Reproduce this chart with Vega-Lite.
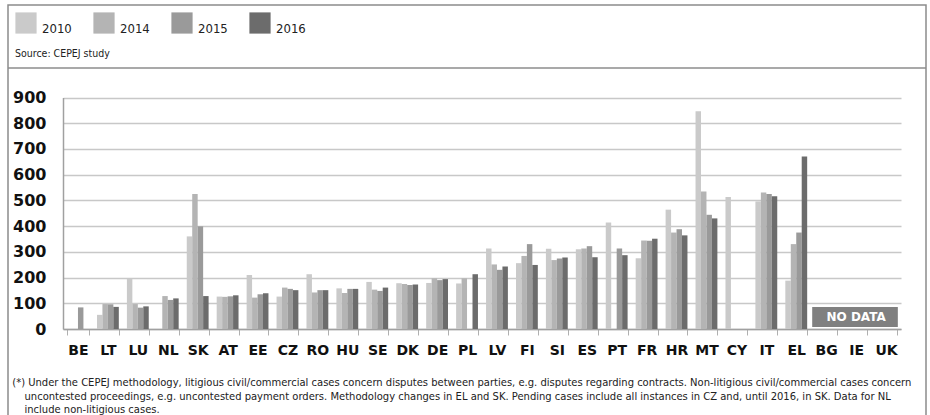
{
  "$schema": "https://vega.github.io/schema/vega-lite/v6.json",
  "width": 918,
  "height": 415,
  "padding": {"left": 7, "top": 5, "right": 5, "bottom": 0},
  "background": "white",
  "config": {
    "view": {"stroke": "#8c8c8c", "strokeWidth": 1.5},
    "font": "DejaVu Sans"
  },
  "title": {
    "text": "(*) Under the CEPEJ methodology, litigious civil/commercial cases concern disputes between parties, e.g. disputes regarding contracts. Non-litigious civil/commercial cases concern",
    "orient": "bottom",
    "anchor": "start",
    "offset": -43,
    "dx": 5,
    "baseline": "top",
    "font": "DejaVu Sans Condensed",
    "fontSize": 11.1,
    "fontWeight": "normal",
    "color": "#222222"
  },
  "datasets": {
    "cases": [
      {"country": "BE", "year": "2015", "value": 84},
      {"country": "LT", "year": "2010", "value": 55},
      {"country": "LT", "year": "2014", "value": 97},
      {"country": "LT", "year": "2015", "value": 96},
      {"country": "LT", "year": "2016", "value": 86},
      {"country": "LU", "year": "2010", "value": 196},
      {"country": "LU", "year": "2014", "value": 97},
      {"country": "LU", "year": "2015", "value": 83},
      {"country": "LU", "year": "2016", "value": 88},
      {"country": "NL", "year": "2014", "value": 128},
      {"country": "NL", "year": "2015", "value": 113},
      {"country": "NL", "year": "2016", "value": 119},
      {"country": "SK", "year": "2010", "value": 360},
      {"country": "SK", "year": "2014", "value": 525},
      {"country": "SK", "year": "2015", "value": 399},
      {"country": "SK", "year": "2016", "value": 128},
      {"country": "AT", "year": "2010", "value": 126},
      {"country": "AT", "year": "2014", "value": 125},
      {"country": "AT", "year": "2015", "value": 127},
      {"country": "AT", "year": "2016", "value": 131},
      {"country": "EE", "year": "2010", "value": 210},
      {"country": "EE", "year": "2014", "value": 122},
      {"country": "EE", "year": "2015", "value": 135},
      {"country": "EE", "year": "2016", "value": 139},
      {"country": "CZ", "year": "2010", "value": 126},
      {"country": "CZ", "year": "2014", "value": 161},
      {"country": "CZ", "year": "2015", "value": 156},
      {"country": "CZ", "year": "2016", "value": 151},
      {"country": "RO", "year": "2010", "value": 213},
      {"country": "RO", "year": "2014", "value": 142},
      {"country": "RO", "year": "2015", "value": 151},
      {"country": "RO", "year": "2016", "value": 151},
      {"country": "HU", "year": "2010", "value": 158},
      {"country": "HU", "year": "2014", "value": 140},
      {"country": "HU", "year": "2015", "value": 156},
      {"country": "HU", "year": "2016", "value": 156},
      {"country": "SE", "year": "2010", "value": 183},
      {"country": "SE", "year": "2014", "value": 153},
      {"country": "SE", "year": "2015", "value": 148},
      {"country": "SE", "year": "2016", "value": 161},
      {"country": "DK", "year": "2010", "value": 178},
      {"country": "DK", "year": "2014", "value": 175},
      {"country": "DK", "year": "2015", "value": 171},
      {"country": "DK", "year": "2016", "value": 173},
      {"country": "DE", "year": "2010", "value": 179},
      {"country": "DE", "year": "2014", "value": 197},
      {"country": "DE", "year": "2015", "value": 190},
      {"country": "DE", "year": "2016", "value": 194},
      {"country": "PL", "year": "2010", "value": 177},
      {"country": "PL", "year": "2014", "value": 197},
      {"country": "PL", "year": "2016", "value": 213},
      {"country": "LV", "year": "2010", "value": 313},
      {"country": "LV", "year": "2014", "value": 251},
      {"country": "LV", "year": "2015", "value": 230},
      {"country": "LV", "year": "2016", "value": 243},
      {"country": "FI", "year": "2010", "value": 256},
      {"country": "FI", "year": "2014", "value": 284},
      {"country": "FI", "year": "2015", "value": 330},
      {"country": "FI", "year": "2016", "value": 249},
      {"country": "SI", "year": "2010", "value": 312},
      {"country": "SI", "year": "2014", "value": 268},
      {"country": "SI", "year": "2015", "value": 274},
      {"country": "SI", "year": "2016", "value": 278},
      {"country": "ES", "year": "2010", "value": 310},
      {"country": "ES", "year": "2014", "value": 313},
      {"country": "ES", "year": "2015", "value": 322},
      {"country": "ES", "year": "2016", "value": 279},
      {"country": "PT", "year": "2010", "value": 414},
      {"country": "PT", "year": "2015", "value": 313},
      {"country": "PT", "year": "2016", "value": 287},
      {"country": "FR", "year": "2010", "value": 275},
      {"country": "FR", "year": "2014", "value": 344},
      {"country": "FR", "year": "2015", "value": 343},
      {"country": "FR", "year": "2016", "value": 351},
      {"country": "HR", "year": "2010", "value": 464},
      {"country": "HR", "year": "2014", "value": 375},
      {"country": "HR", "year": "2015", "value": 388},
      {"country": "HR", "year": "2016", "value": 364},
      {"country": "MT", "year": "2010", "value": 847},
      {"country": "MT", "year": "2014", "value": 535},
      {"country": "MT", "year": "2015", "value": 444},
      {"country": "MT", "year": "2016", "value": 430},
      {"country": "CY", "year": "2010", "value": 513},
      {"country": "IT", "year": "2010", "value": 496},
      {"country": "IT", "year": "2014", "value": 531},
      {"country": "IT", "year": "2015", "value": 525},
      {"country": "IT", "year": "2016", "value": 516},
      {"country": "EL", "year": "2010", "value": 188},
      {"country": "EL", "year": "2014", "value": 330},
      {"country": "EL", "year": "2015", "value": 375},
      {"country": "EL", "year": "2016", "value": 671}
    ],
    "nodata": [
      {"country": "IE", "label": "NO DATA"}
    ]
  },
  "layer": [
    {
      "data": {"name": "cases"},
      "mark": {"type": "bar"},
      "encoding": {
        "x": {
          "field": "country",
          "type": "nominal",
          "scale": {
            "domain": ["BE","LT","LU","NL","SK","AT","EE","CZ","RO","HU","SE","DK","DE","PL","LV","FI","SI","ES","PT","FR","HR","MT","CY","IT","EL","BG","IE","UK"],
            "range": [55, 893],
            "paddingInner": 0.27,
            "paddingOuter": 0.135
          },
          "axis": {
            "title": [
              "uncontested proceedings, e.g. uncontested payment orders. Methodology changes in EL and SK. Pending cases include all instances in CZ and, until 2016, in SK. Data for NL",
              "include non-litigious cases."
            ],
            "titleAnchor": "start",
            "titleAlign": "left",
            "titleBaseline": "top",
            "titleX": 16,
            "titleY": 61,
            "titleLineHeight": 13.3,
            "titleFont": "DejaVu Sans Condensed",
            "titleFontSize": 11.1,
            "titleFontWeight": "normal",
            "titleColor": "#222222",
            "orient": "bottom",
            "offset": -91,
            "labelAngle": 0,
            "labelFont": "DejaVu Sans",
            "labelFontSize": 14,
            "labelFontWeight": "bold",
            "labelColor": "#111111",
            "labelPadding": 8,
            "tickBand": "extent",
            "tickSize": 6,
            "tickColor": "#b0b0b0",
            "tickWidth": 1,
            "domainColor": "#a0a0a0",
            "domainWidth": 1.5,
            "grid": false
          }
        },
        "xOffset": {
          "field": "year",
          "type": "nominal",
          "scale": {"domain": ["2010","2014","2015","2016"], "paddingInner": 0, "paddingOuter": 0}
        },
        "y": {
          "field": "value",
          "type": "quantitative",
          "scale": {"domain": [0, 900], "range": [324, 92.5], "nice": false, "zero": true},
          "axis": {
            "title": null,
            "orient": "left",
            "offset": -55,
            "values": [0,100,200,300,400,500,600,700,800,900],
            "labelFont": "DejaVu Sans",
            "labelFontSize": 16,
            "labelFontWeight": "bold",
            "labelColor": "#111111",
            "labelPadding": 17,
            "ticks": false,
            "domainColor": "#a0a0a0",
            "domainWidth": 1.5,
            "grid": true,
            "gridColor": "#c8c8c8",
            "gridWidth": 1.6
          }
        },
        "color": {
          "field": "year",
          "type": "nominal",
          "scale": {"domain": ["2010","2014","2015","2016"], "range": ["#cacaca", "#b4b4b4", "#9a9a9a", "#6c6c6c"]},
          "legend": {
            "title": "Source: CEPEJ study",
            "orient": "none",
            "legendX": 7,
            "legendY": 7,
            "direction": "horizontal",
            "padding": 0,
            "symbolType": "square",
            "symbolSize": 450,
            "symbolStrokeWidth": 0,
            "labelFont": "DejaVu Sans Condensed",
            "labelFontSize": 13,
            "labelBaseline": "top",
            "labelColor": "#222222",
            "labelOffset": 5,
            "columnPadding": 21,
            "titleOrient": "bottom",
            "titleAnchor": "start",
            "titleFont": "DejaVu Sans Condensed",
            "titleFontSize": 10.5,
            "titleFontWeight": "normal",
            "titleColor": "#222222",
            "titlePadding": 13
          }
        }
      }
    },
    {
      "data": {"name": "nodata"},
      "mark": {"type": "rule", "color": "#8c8c8c", "strokeWidth": 1.5},
      "encoding": {
        "y": {"datum": 1015}
      }
    },
    {
      "data": {"name": "nodata"},
      "mark": {"type": "rect", "color": "#808080"},
      "encoding": {
        "x": {"datum": "BG", "bandPosition": -0.14},
        "x2": {"datum": "UK", "bandPosition": 1.04},
        "y": {"datum": 8},
        "y2": {"datum": 86}
      }
    },
    {
      "data": {"name": "nodata"},
      "mark": {"type": "text", "color": "white", "fontWeight": "bold", "fontSize": 12, "font": "DejaVu Sans"},
      "encoding": {
        "x": {"field": "country", "type": "nominal"},
        "y": {"datum": 47},
        "text": {"field": "label"}
      }
    }
  ]
}
